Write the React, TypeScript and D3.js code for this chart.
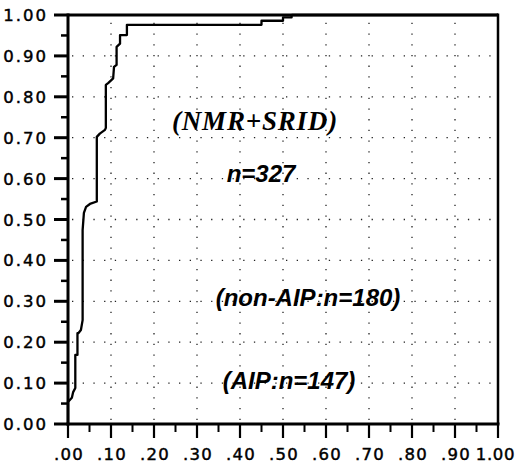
import React from "react";
import * as d3 from "d3";

// ---- data ----
const xTickValues = [0, 0.1, 0.2, 0.3, 0.4, 0.5, 0.6, 0.7, 0.8, 0.9, 1.0];
const xTickLabels = [".00", ".10", ".20", ".30", ".40", ".50", ".60", ".70", ".80", ".90", "1.00"];
const yTickValues = [0, 0.1, 0.2, 0.3, 0.4, 0.5, 0.6, 0.7, 0.8, 0.9, 1.0];
const yTickLabels = ["0.00", "0.10", "0.20", "0.30", "0.40", "0.50", "0.60", "0.70", "0.80", "0.90", "1.00"];
const minorTickValues = [0.05, 0.15, 0.25, 0.35, 0.45, 0.55, 0.65, 0.75, 0.85, 0.95];

// cumulative curve (NMR+SRID)
const curveX = [0, 0, 0.009, 0.012, 0.017, 0.017, 0.022, 0.022, 0.024, 0.030, 0.034, 0.034, 0.037, 0.042, 0.051, 0.067,
  0.067, 0.074, 0.086, 0.088, 0.088, 0.094, 0.105, 0.107, 0.113, 0.113, 0.121, 0.121, 0.137, 0.137,
  0.45, 0.45, 0.50, 0.50, 0.52, 0.52];
const curveY = [0, 0.054, 0.064, 0.078, 0.088, 0.169, 0.169, 0.222, 0.222, 0.230, 0.254, 0.474, 0.516, 0.531, 0.538, 0.544,
  0.702, 0.710, 0.719, 0.724, 0.829, 0.834, 0.845, 0.873, 0.878, 0.922, 0.930, 0.951, 0.951, 0.976,
  0.976, 0.986, 0.986, 0.994, 0.994, 1.0];

const titleText = "(NMR+SRID)";
const nText = "n=327";
const nonAipText = "(non-AIP:n=180)";
const aipText = "(AIP:n=147)";

export default function App() {
  const W = 516, H = 466;
  const left = 68, right = 498, top = 15, bottom = 424;
  const x = d3.scaleLinear().domain([0, 1]).range([left, right]);
  const y = d3.scaleLinear().domain([0, 1]).range([bottom, top]);

  const pts: [number, number][] = curveX.map((v, i) => [v, curveY[i]]);
  const line = d3.line<[number, number]>().x(d => x(d[0])).y(d => y(d[1])).curve(d3.curveLinear);

  const gridVals = xTickValues.slice(1, 10);
  const axisFont = "'DejaVu Sans', sans-serif";
  const annFont = "'Liberation Sans', Arial, sans-serif";
  const lastX = xTickValues.length - 1;

  return (
    <svg width={W} height={H} style={{ position: "absolute", left: 0, top: 0, background: "#fff" }}>
      <rect x={0} y={0} width={W} height={H} fill="#fff" />
      {/* dotted grid */}
      <g stroke="#222" strokeWidth={1.3} strokeDasharray="1.3 9.4" fill="none">
        {gridVals.map((v, i) => (
          <line key={"h" + i} x1={left + 4} x2={right} y1={y(v)} y2={y(v)} />
        ))}
        {gridVals.map((v, i) => (
          <line key={"v" + i} x1={x(v)} x2={x(v)} y1={bottom - 4} y2={top} />
        ))}
      </g>

      {/* curve */}
      <path d={line(pts) || ""} fill="none" stroke="#000" strokeWidth={2.3} strokeLinejoin="round" />
      <line x1={x(0.52)} x2={right} y1={y(1)} y2={y(1)} stroke="#000" strokeWidth={2.3} />

      {/* frame */}
      <line x1={left} x2={right} y1={top} y2={top} stroke="#000" strokeWidth={3} />
      <line x1={right} x2={right} y1={top - 1.5} y2={bottom} stroke="#000" strokeWidth={2.5} />
      <line x1={left} x2={left} y1={top - 1.5} y2={bottom + 1.5} stroke="#000" strokeWidth={3} />
      <line x1={left - 1.5} x2={right + 1.5} y1={bottom} y2={bottom} stroke="#000" strokeWidth={3} />

      {/* ticks */}
      <g stroke="#000">
        {yTickValues.map((v, i) => (
          <line key={"yt" + i} x1={left - 14} x2={left} y1={y(v)} y2={y(v)} strokeWidth={3} />
        ))}
        {minorTickValues.map((v, i) => (
          <line key={"ym" + i} x1={left - 7} x2={left} y1={y(v)} y2={y(v)} strokeWidth={2.5} />
        ))}
        {xTickValues.map((v, i) => (
          <line key={"xt" + i} x1={x(v)} x2={x(v)} y1={bottom} y2={bottom + 14} strokeWidth={2.2} />
        ))}
        {minorTickValues.map((v, i) => (
          <line key={"xm" + i} x1={x(v)} x2={x(v)} y1={bottom} y2={bottom + 8} strokeWidth={2} />
        ))}
      </g>

      {/* axis labels */}
      <g fontFamily={axisFont} fontSize={16.5} fill="#000" stroke="#000" strokeWidth={0.45}>
        {yTickValues.map((v, i) => (
          <text key={"yl" + i} x={48} y={y(v) + 6} textAnchor="end" letterSpacing={2}>
            {yTickLabels[i]}
          </text>
        ))}
        {xTickValues.map((v, i) => (
          <text key={"xl" + i} x={i === lastX ? W - 1 : x(v) + 1} y={460}
            textAnchor={i === lastX ? "end" : "middle"} letterSpacing={i === lastX ? 0.6 : 1.2}>
            {xTickLabels[i]}
          </text>
        ))}
      </g>

      {/* annotations */}
      <text x={255} y={130} textAnchor="middle" fontFamily="'Liberation Serif', 'Times New Roman', serif"
        fontWeight="bold" fontStyle="italic" fontSize={27} letterSpacing={0.8}>{titleText}</text>
      <text x={261} y={182} textAnchor="middle" fontFamily={annFont}
        fontWeight="bold" fontStyle="italic" fontSize={24}>{nText}</text>
      <text x={308} y={306} textAnchor="middle" fontFamily={annFont}
        fontWeight="bold" fontStyle="italic" fontSize={24}>{nonAipText}</text>
      <text x={289} y={389} textAnchor="middle" fontFamily={annFont}
        fontWeight="bold" fontStyle="italic" fontSize={24}>{aipText}</text>
    </svg>
  );
}
